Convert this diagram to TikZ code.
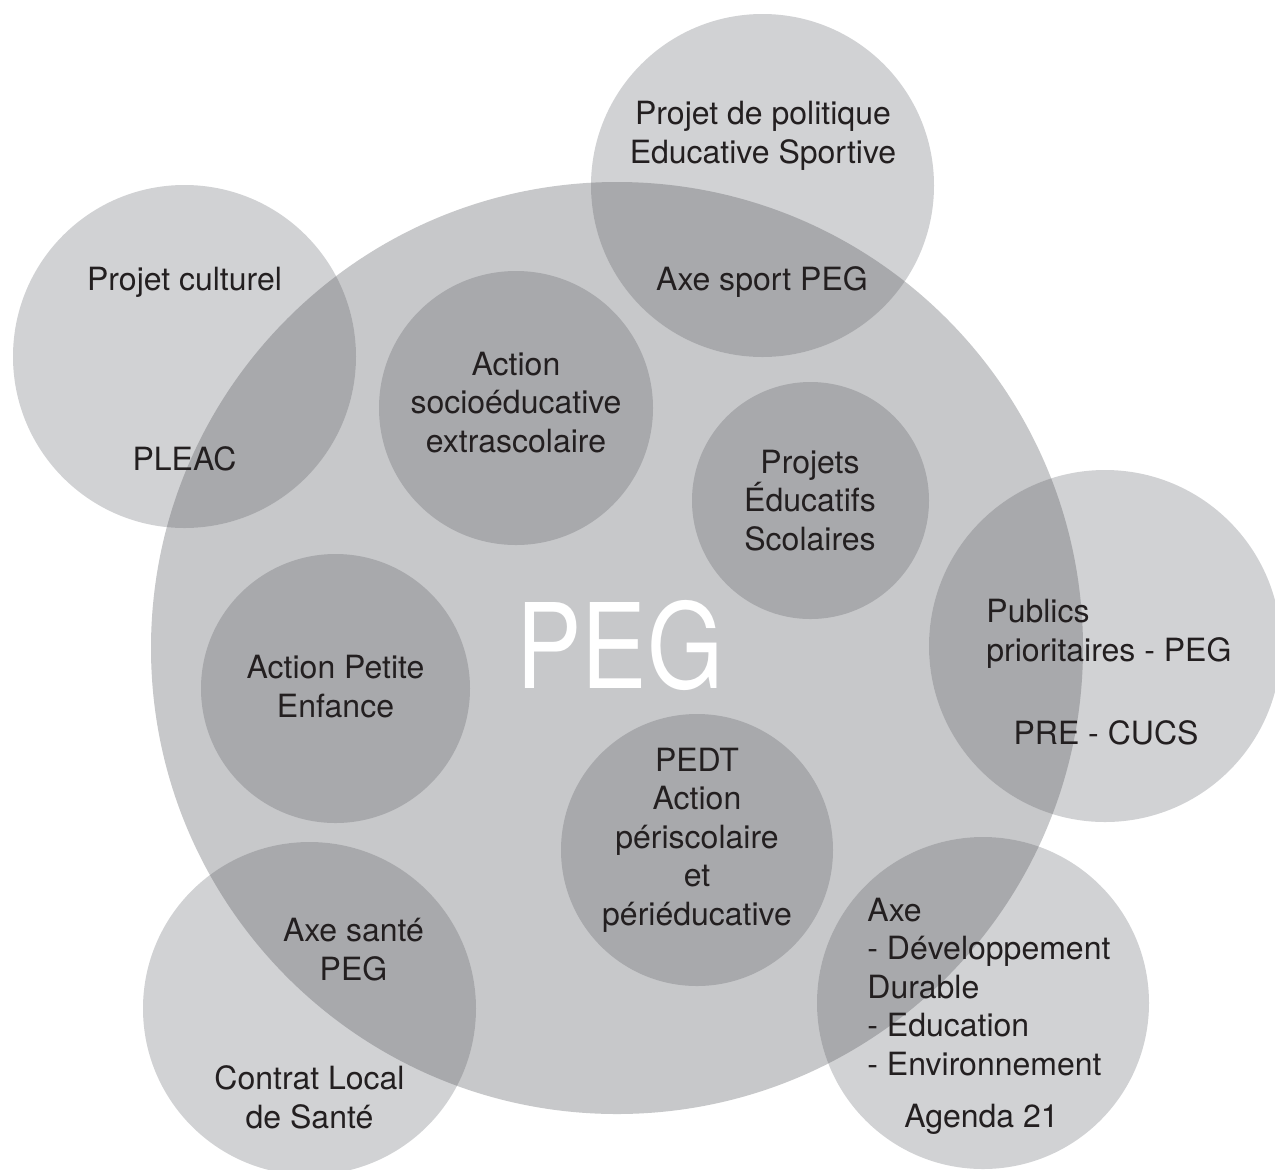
\documentclass[tikz,border=0pt]{standalone}
\usepackage{fontspec}
\setmainfont{TeX Gyre Heros}
\definecolor{outerc}{HTML}{D1D2D4}
\definecolor{bigc}{HTML}{C7C8CA}
\definecolor{darkc}{HTML}{A8A9AC}
\definecolor{inkc}{HTML}{231F20}
\begin{document}
\begin{tikzpicture}[x=0.5pt,y=-0.5pt,
  lbl/.style={inner sep=0pt,text=inkc,align=center,anchor=base,font=\fontsize{16}{19.2}\selectfont},
  lbll/.style={lbl,align=left,anchor=base west}]
\useasboundingbox (0,0) rectangle (1275,1169);
\fill[white] (0,0) rectangle (1275,1169);
\clip (0,0) rectangle (1275,1169);
% main circle
\fill[bigc] (617,648) circle[radius=233pt];
% outer circles
\fill[outerc] (762.5,185.5) circle[radius=85.75pt];
\fill[outerc] (184.5,356.5) circle[radius=85.75pt];
\fill[outerc] (1105,646) circle[radius=88pt];
\fill[outerc] (983,1003) circle[radius=83pt];
\fill[outerc] (309.5,1008.5) circle[radius=83.25pt];
% overlaps
\begin{scope}
\clip (617,648) circle[radius=233pt];
\fill[darkc] (762.5,185.5) circle[radius=85.75pt];
\fill[darkc] (184.5,356.5) circle[radius=85.75pt];
\fill[darkc] (1105,646) circle[radius=88pt];
\fill[darkc] (983,1003) circle[radius=83pt];
\fill[darkc] (309.5,1008.5) circle[radius=83.25pt];
\end{scope}
% inner circles
\fill[darkc] (516,408) circle[radius=68.5pt];
\fill[darkc] (810.5,500.5) circle[radius=59.25pt];
\fill[darkc] (335.5,688.5) circle[radius=67.25pt];
\fill[darkc] (697,850) circle[radius=68pt];
% labels (base anchor = baseline of the last line)
\node[lbl] (pol) at (763,163) {Projet de politique\\Educative Sportive};
\node[lbl] (sport) at (762,290) {Axe sport PEG};
\node[lbl] (cult) at (184.5,290) {Projet culturel};
\node[lbl] (pleac) at (184.5,470) {PLEAC};
\node[lbl] (socio) at (516,452) {Action\\socioéducative\\extrascolaire};
\node[lbl] (proj) at (810,550) {Projets\\Éducatifs\\Scolaires};
\node[lbl] (petite) at (335.5,717) {Action Petite\\Enfance};
\node[lbl] (pedt) at (697,925) {PEDT\\Action\\périscolaire\\et\\périéducative};
\node[lbll] (publics) at (986,661) {Publics\\prioritaires - PEG};
\node[lbl] (pre) at (1106,744) {PRE - CUCS};
\node[lbll] (axedd) at (867,1075) {Axe\\- Développement\\Durable\\- Education\\- Environnement};
\node[lbl] (agenda) at (981.5,1127) {Agenda 21};
\node[lbl] (sante) at (353.5,980) {Axe santé\\PEG};
\node[lbl] (contrat) at (309.5,1128) {Contrat Local\\de Santé};
\node[inner sep=0pt,anchor=base,text=white,font=\fontsize{59}{60}\selectfont] (peg) at (620,688) {\scalebox{0.83}[1]{PEG}};
\end{tikzpicture}
\end{document}
